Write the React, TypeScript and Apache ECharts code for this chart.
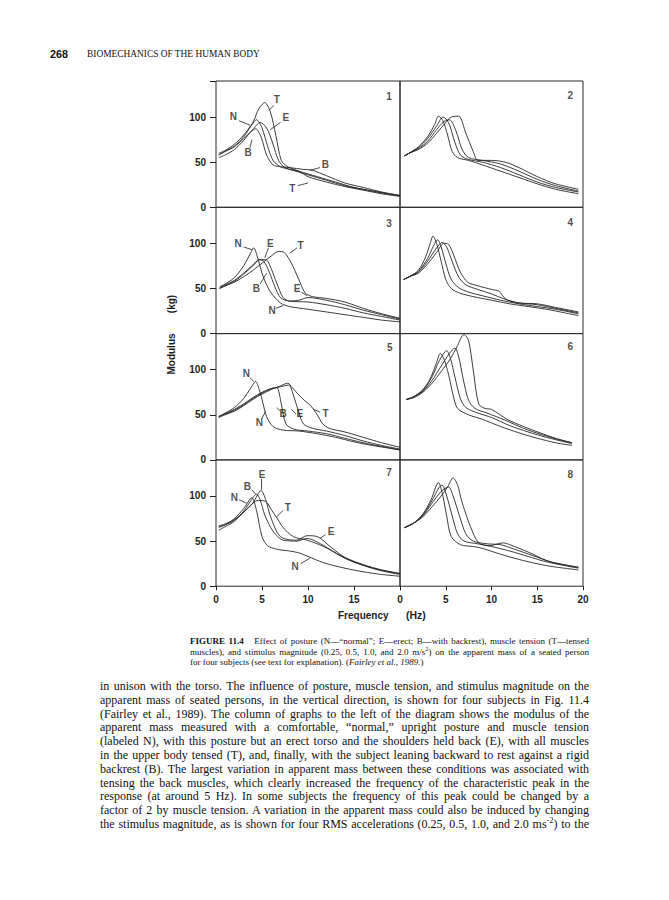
import React, { useEffect, useRef } from 'react';
import * as echarts from 'echarts';

type Pt = [number, number];
type Lab = [number, number, string];
type Lead = [number, number, number, number];

// ---------- tick values ----------
const xTicks = [0, 5, 10, 15, 20];
const yTicks = [0, 50, 100];

// ---------- panel 1 (subject 1, posture) ----------
const p1N: Pt[] = [[0.3,58],[1,62],[2,68],[3,78],[3.8,90],[4.4,97],[5,88],[5.6,68],[6.2,52],[7,45],[8,42],[10,36],[12,30],[14,24],[16,20],[18,16],[20,13]];
const p1E: Pt[] = [[0.3,58],[1,62],[2,67],[3,76],[4,86],[4.8,94],[5.5,88],[6.2,70],[6.8,52],[7.5,44],[9,40],[11,34],[13,28],[15,22],[17,18],[20,13]];
const p1T: Pt[] = [[0.3,60],[1,63],[2,70],[3,80],[4,94],[4.7,110],[5.3,116],[5.9,106],[6.5,80],[7.1,52],[7.8,45],[9,40],[10,34],[12,28],[14,23],[16,19],[18,15],[20,12]];
const p1B: Pt[] = [[0.3,55],[1,58],[2,64],[3,74],[3.8,84],[4.3,87],[4.9,78],[5.5,58],[6.2,47],[7,45],[8,44],[9.5,42],[10.5,41],[12,35],[14,27],[16,22],[18,17],[20,13]];
const p1Labels: Lab[] = [[6.6,119,'T'],[7.6,99,'E'],[1.9,101,'N'],[3.5,61,'B'],[11.9,47,'B'],[8.3,21,'T'],[18.8,123,'1']];
const p1Leaders: Lead[] = [[6.3,113,5.8,108],[7.0,94,5.9,86],[2.5,96,3.7,91],[3.7,66,3.9,75],[11.3,44,10.2,41],[8.9,24,10,27]];

// ---------- panel 2 (subject 1, magnitude) ----------
const p2a: Pt[] = [[0.5,57],[1,60],[2,67],[3,78],[3.8,92],[4.2,101],[4.7,96],[5.2,80],[5.7,62],[6.3,55],[7.5,52],[9,47],[11,40],[13,33],[15,26],[17,20],[19.5,15]];
const p2b: Pt[] = [[0.5,57],[1,60],[2,66],[3,76],[4,90],[4.7,100],[5.3,94],[6,72],[6.6,58],[7.5,53],[9,50],[11,44],[13,36],[15,28],[17,22],[19.5,17]];
const p2c: Pt[] = [[0.5,57],[1,60],[2,65],[3,73],[4,86],[4.8,95],[5.4,97],[6.1,85],[6.8,64],[7.5,55],[9,52],[11,48],[13,40],[15,31],[17,24],[19.5,18]];
const p2d: Pt[] = [[0.5,57],[1,60],[2,64],[3,71],[4,82],[5,94],[5.6,100],[6.4,101],[7.2,82],[8,62],[8.5,52],[10,52],[11.5,50],[13,44],[15,34],[17,26],[19.5,20]];
const p2Labels: Lab[] = [[18.6,124,'2']];

// ---------- panel 3 (subject 2, posture) ----------
const p3N: Pt[] = [[0.4,52],[1,55],[2,62],[3,75],[3.7,88],[4.1,95],[4.5,85],[5,67],[5.5,54],[6,45],[7,34],[8,30],[10,27],[12,24],[14,21],[16,18],[18,15],[20,13]];
const p3E: Pt[] = [[0.4,50],[1,53],[2,58],[3,66],[4,75],[4.8,82],[5.4,82],[6,72],[6.6,56],[7.3,40],[8,36],[9,37],[10,40],[12,37],[14,32],[16,26],[18,21],[20,16]];
const p3B: Pt[] = [[0.4,51],[1,54],[2,59],[3,67],[4,76],[4.7,82],[5.2,80],[5.8,68],[6.4,52],[7,40],[8,36],[10,35],[12,32],[14,28],[16,23],[18,19],[20,15]];
const p3T: Pt[] = [[0.4,50],[1,53],[2,57],[3,63],[4,70],[5,78],[6,86],[6.8,91],[7.4,90],[8.2,78],[9,60],[9.7,45],[10.5,41],[12,39],[14,35],[16,28],[18,22],[20,17]];
const p3Labels: Lab[] = [[2.4,100,'N'],[5.9,100,'E'],[9.2,98,'T'],[4.4,50,'B'],[8.8,50,'E'],[6.1,26,'N'],[18.8,122,'3']];
const p3Leaders: Lead[] = [[3.0,96,3.9,93],[5.7,95,5.3,84],[8.8,95,8.0,89],[4.8,55,5.5,67],[9.3,46,9.9,42],[6.5,28,7.3,31]];

// ---------- panel 4 (subject 2, magnitude) ----------
const p4a: Pt[] = [[0.4,60],[1,63],[2,70],[2.8,85],[3.3,100],[3.6,108],[4,100],[4.5,80],[5,60],[5.6,50],[6.5,45],[8,41],[10,37],[12,33],[14,30],[16,27],[18,23],[19.5,20]];
const p4b: Pt[] = [[0.4,60],[1,63],[2,69],[3,83],[3.7,98],[4.1,104],[4.5,96],[5,78],[5.6,60],[6.4,51],[7.5,46],[9,42],[11,37],[13,33],[15,30],[17,27],[19.5,22]];
const p4c: Pt[] = [[0.4,60],[1,63],[2,68],[3,80],[4,95],[4.6,101],[5.1,96],[5.7,80],[6.4,63],[7.2,54],[8.5,49],[10,44],[11.5,38],[13,34],[15,32],[17,28],[19.5,23]];
const p4d: Pt[] = [[0.4,60],[1,63],[2,67],[3,77],[4,90],[4.8,100],[5.3,99],[5.9,86],[6.6,68],[7.4,57],[8.5,53],[10,49],[10.8,47],[11.6,38],[13,34],[15,33],[17,29],[19.5,24]];
const p4Labels: Lab[] = [[18.6,123,'4']];

// ---------- panel 5 (subject 3, posture) ----------
const p5N: Pt[] = [[0.3,48],[1,52],[2,58],[3,68],[3.8,80],[4.3,87],[4.7,78],[5.1,63],[5.5,48],[6.2,37],[7.3,33],[9,32],[11,29],[13,25],[15,20],[17,16],[20,11]];
const p5B: Pt[] = [[0.3,48],[1,51],[2,56],[3,62],[4,69],[5,75],[6,79],[6.6,80],[7.1,62],[7.6,40],[8.5,34],[10,32],[12,29],[14,24],[16,19],[18,15],[20,11]];
const p5E: Pt[] = [[0.3,48],[1,51],[2,55],[3,61],[4,68],[5,74],[6,79],[7,81],[7.9,83],[8.4,72],[8.9,56],[9.5,40],[10.5,35],[12,32],[14,27],[16,21],[18,16],[20,12]];
const p5T: Pt[] = [[0.3,47],[1,50],[2,54],[3,60],[4,67],[5,73],[6,78],[7,82],[7.8,85],[8.3,80],[9,72],[9.6,66],[10.3,60],[11,50],[11.6,40],[12.3,35],[14,31],[16,25],[18,19],[20,14]];
const p5Labels: Lab[] = [[3.3,96,'N'],[4.7,41,'N'],[7.3,51,'B'],[9.1,51,'E'],[11.9,51,'T'],[18.9,125,'5']];
const p5Leaders: Lead[] = [[3.7,91,4.1,87],[5.0,46,5.4,54],[7.0,54,6.6,58],[8.7,51,8.2,56],[11.3,53,10.6,56]];

// ---------- panel 6 (subject 3, magnitude) ----------
const p6a: Pt[] = [[0.7,67],[1.5,70],[2.5,78],[3.3,90],[4,108],[4.4,118],[4.8,112],[5.3,95],[5.8,72],[6.3,57],[7.5,50],[9,45],[11,37],[13,30],[15,24],[17,19],[18.8,16]];
const p6b: Pt[] = [[0.7,67],[1.5,70],[2.5,77],[3.5,92],[4.3,110],[5.1,121],[5.5,113],[6,92],[6.6,68],[7.2,58],[8.5,52],[10,47],[12,38],[14,31],[16,25],[18.8,18]];
const p6c: Pt[] = [[0.7,67],[1.5,70],[2.5,76],[3.5,88],[4.5,104],[5.4,118],[6,124],[6.4,115],[6.9,90],[7.5,66],[8.2,57],[9.5,52],[11.5,44],[13.5,35],[15.5,28],[17.5,22],[18.8,19]];
const p6d: Pt[] = [[0.7,67],[1.5,69],[2.5,75],[3.5,85],[4.5,98],[5.5,112],[6.2,125],[7,139],[7.5,132],[8,100],[8.6,62],[9.3,57],[10,56],[11.7,45],[13.5,37],[15.3,30],[17,24],[18.8,19]];
const p6Labels: Lab[] = [[18.6,126,'6']];

// ---------- panel 7 (subject 4, posture) ----------
const p7N: Pt[] = [[0.3,65],[1,68],[2,75],[3,86],[3.9,98],[4.4,84],[5,55],[5.6,45],[6.6,41],[8,39],[9,37],[10,33],[11.7,26],[14,20],[16,16],[18,13],[20,11]];
const p7B: Pt[] = [[0.3,62],[1,66],[2,72],[3,83],[3.8,95],[4.4,102],[4.8,96],[5.3,79],[6.2,61],[7.3,51],[8.8,50],[9.9,53],[11,49],[12.5,40],[14,31],[16,23],[18,17],[20,13]];
const p7E: Pt[] = [[0.3,67],[1,69],[2,74],[3,82],[4,92],[4.9,106],[5.4,96],[5.9,78],[7,55],[8.8,51],[9.9,56],[11,55],[12.4,44],[14,32],[16,24],[18,18],[20,14]];
const p7T: Pt[] = [[0.3,66],[1,68],[2,73],[3,82],[4,92],[4.6,95],[5.4,94],[6,85],[6.6,76],[7.3,65],[8.4,55],[9.9,51],[11.7,44],[13.5,34],[15.5,25],[17.5,19],[20,14]];
const p7Labels: Lab[] = [[5.0,124,'E'],[3.4,111,'B'],[2.0,98,'N'],[7.8,87,'T'],[12.5,61,'E'],[8.6,22,'N'],[18.8,126,'7']];
const p7Leaders: Lead[] = [[4.95,119,4.95,107],[3.9,107,4.3,102],[2.5,96,3.3,92],[7.3,84,6.6,77],[11.9,57,11.3,53],[9.2,25,10.2,31]];

// ---------- panel 8 (subject 4, magnitude) ----------
const p8a: Pt[] = [[0.5,65],[1.5,70],[2.5,80],[3.4,96],[4.2,115],[4.6,104],[5.1,78],[5.6,55],[6.6,46],[8,44],[9,42],[10.5,37],[12.5,31],[14.5,26],[16.5,22],[19.5,18]];
const p8b: Pt[] = [[0.5,65],[1.5,70],[2.5,79],[3.5,95],[4.3,110],[4.6,112],[5.1,100],[5.7,78],[6.3,58],[7,50],[8.5,47],[10,44],[12,39],[14,33],[16,27],[19.5,20]];
const p8c: Pt[] = [[0.5,65],[1.5,70],[2.5,78],[3.5,92],[4.5,105],[5.3,110],[5.8,100],[6.5,78],[7.2,58],[8,50],[9.5,47],[11,46],[12.5,41],[14.5,34],[16.5,27],[19.5,21]];
const p8d: Pt[] = [[0.5,65],[1.5,70],[2.5,77],[3.5,88],[4.5,100],[5.2,110],[5.8,120],[6.3,112],[6.7,96],[7.2,80],[7.7,66],[8.6,48],[9.8,45],[11.3,48],[12,46],[14.2,37],[16.4,27],[19.5,21]];
const p8Labels: Lab[] = [[18.6,124,'8']];

const panelCurves: Pt[][][] = [
  [p1N, p1E, p1T, p1B], [p2a, p2b, p2c, p2d],
  [p3N, p3E, p3B, p3T], [p4a, p4b, p4c, p4d],
  [p5N, p5B, p5E, p5T], [p6a, p6b, p6c, p6d],
  [p7N, p7B, p7E, p7T], [p8a, p8b, p8c, p8d],
];
const panelLabels: Lab[][] = [p1Labels, p2Labels, p3Labels, p4Labels, p5Labels, p6Labels, p7Labels, p8Labels];
const panelLeaders: Lead[][] = [p1Leaders, [], p3Leaders, [], p5Leaders, [], p7Leaders, []];

// ---------- layout ----------
const COL_LEFT = [216, 400];
const COL_W = [184, 183];
const ROW_TOP = 81;
const ROW_H = 126.3;
const SANS = '"Liberation Sans", Arial, Helvetica, sans-serif';
const SERIF = '"Liberation Serif", "Times New Roman", serif';
const INK = '#1e1e1e';

function buildOption(): any {
  const grid: any[] = [];
  const xAxis: any[] = [];
  const yAxis: any[] = [];
  const series: any[] = [];
  panelCurves.forEach((curves, i) => {
    const c = i % 2;
    const r = Math.floor(i / 2);
    const bottom = r === 3;
    grid.push({
      left: COL_LEFT[c], width: COL_W[c], top: ROW_TOP + r * ROW_H, height: ROW_H,
      show: true, borderColor: '#2a2a2a', borderWidth: 1, backgroundColor: 'transparent', containLabel: false,
    });
    xAxis.push({
      type: 'value', gridIndex: i, min: xTicks[0], max: xTicks[xTicks.length - 1], interval: 5,
      axisLine: { show: false }, splitLine: { show: false },
      axisTick: { show: bottom, inside: false, length: 4, lineStyle: { color: INK, width: 1 } },
      axisLabel: {
        show: bottom, margin: 8, fontFamily: SANS, fontWeight: 'bold', fontSize: 10, color: INK,
        formatter: (v: number) => (c === 0 && v === 20 ? '' : xTicks.includes(v) ? String(v) : ''),
      },
    });
    yAxis.push({
      type: 'value', gridIndex: i, min: 0, max: 140, interval: 50,
      axisLine: { show: false }, splitLine: { show: false },
      axisTick: { show: c === 0, inside: false, length: 6, lineStyle: { color: INK, width: 1 } },
      axisLabel: {
        show: c === 0, margin: 10, fontFamily: SANS, fontWeight: 'bold', fontSize: 10, color: INK,
        formatter: (v: number) => (yTicks.includes(v) ? String(v) : ''),
      },
    });
    curves.forEach((d) => {
      series.push({
        type: 'line', xAxisIndex: i, yAxisIndex: i, data: d, showSymbol: false, symbol: 'none',
        smooth: 0.3, lineStyle: { color: '#262626', width: 0.9 }, silent: true, z: 2,
      });
    });
    series.push({
      type: 'scatter', xAxisIndex: i, yAxisIndex: i, silent: true, z: 5,
      data: panelLabels[i].map((l) => [l[0], l[1], l[2]]),
      symbolSize: 1, itemStyle: { color: 'rgba(0,0,0,0)' },
      label: {
        show: true, position: 'inside', fontFamily: SANS, fontWeight: 'bold', fontSize: 10, color: INK,
        formatter: (p: any) => p.data[2],
      },
      markLine: {
        silent: true, symbol: ['none', 'none'], label: { show: false },
        lineStyle: { color: INK, width: 0.8, type: 'solid' },
        data: panelLeaders[i].map((l) => [{ coord: [l[0], l[1]] }, { coord: [l[2], l[3]] }]),
      },
    });
  });
  return {
    animation: false,
    backgroundColor: '#fff',
    grid, xAxis, yAxis, series,
    graphic: [
      { type: 'text', x: 338, y: 615, style: { text: 'Frequency', fontFamily: SANS, fontWeight: 'bold', fontSize: 10, fill: INK, verticalAlign: 'middle', textVerticalAlign: 'middle' } },
      { type: 'text', x: 406, y: 615, style: { text: '(Hz)', fontFamily: SANS, fontWeight: 'bold', fontSize: 10.5, fill: INK, verticalAlign: 'middle', textVerticalAlign: 'middle' } },
      { type: 'text', x: 171, y: 354, rotation: Math.PI / 2, style: { text: 'Modulus', fontFamily: SANS, fontWeight: 'bold', fontSize: 10, fill: INK, align: 'center', textAlign: 'center', verticalAlign: 'middle', textVerticalAlign: 'middle' } },
      { type: 'text', x: 171, y: 304, rotation: Math.PI / 2, style: { text: '(kg)', fontFamily: SANS, fontWeight: 'bold', fontSize: 10, fill: INK, align: 'center', textAlign: 'center', verticalAlign: 'middle', textVerticalAlign: 'middle' } },
    ],
  };
}

const captionLines: React.ReactNode[] = [
  <><b>FIGURE 11.4</b>{'\u00a0\u00a0\u00a0'}Effect of posture (N—“normal”; E—erect; B—with backrest), muscle tension (T—tensed</>,
  <>muscles), and stimulus magnitude (0.25, 0.5, 1.0, and 2.0 m/s<sup style={{ fontSize: '0.7em', lineHeight: 0 }}>2</sup>) on the apparent mass of a seated person</>,
  <>for four subjects (see text for explanation). (<i>Fairley et al., 1989.</i>)</>,
];

const bodyLines: React.ReactNode[] = [
  <>in unison with the torso. The influence of posture, muscle tension, and stimulus magnitude on the</>,
  <>apparent mass of seated persons, in the vertical direction, is shown for four subjects in Fig. 11.4</>,
  <>(Fairley et al., 1989). The column of graphs to the left of the diagram shows the modulus of the</>,
  <>apparent mass measured with a comfortable, “normal,” upright posture and muscle tension</>,
  <>(labeled N), with this posture but an erect torso and the shoulders held back (E), with all muscles</>,
  <>in the upper body tensed (T), and, finally, with the subject leaning backward to rest against a rigid</>,
  <>backrest (B). The largest variation in apparent mass between these conditions was associated with</>,
  <>tensing the back muscles, which clearly increased the frequency of the characteristic peak in the</>,
  <>response (at around 5 Hz). In some subjects the frequency of this peak could be changed by a</>,
  <>factor of 2 by muscle tension. A variation in the apparent mass could also be induced by changing</>,
  <>the stimulus magnitude, as is shown for four RMS accelerations (0.25, 0.5, 1.0, and 2.0 ms<sup style={{ fontSize: '0.7em', lineHeight: 0 }}>-2</sup>) to the</>,
];

export default function App() {
  const ref = useRef<HTMLDivElement>(null);
  useEffect(() => {
    if (!ref.current) return;
    const chart = echarts.init(ref.current, null, { renderer: 'svg' });
    chart.setOption(buildOption());
    return () => chart.dispose();
  }, []);
  const justified: React.CSSProperties = { textAlign: 'justify', textAlignLast: 'justify', whiteSpace: 'nowrap' };
  return (
    <div style={{ position: 'absolute', left: 0, top: 0, width: 669, height: 900, background: '#fff', overflow: 'hidden', color: '#111' }}>
      <div ref={ref} style={{ position: 'absolute', left: 0, top: 0, width: 669, height: 640 }} />
      <div style={{ position: 'absolute', left: 50, top: 48, fontFamily: SANS, fontWeight: 'bold', fontSize: 10.8, lineHeight: '12px' }}>268</div>
      <div style={{ position: 'absolute', left: 87, top: 48.5, fontFamily: SERIF, fontSize: 9.4, lineHeight: '11px' }}>BIOMECHANICS OF THE HUMAN BODY</div>
      <div style={{ position: 'absolute', left: 190, top: 636, width: 399, fontFamily: SERIF, fontSize: 9, lineHeight: '10.5px' }}>
        {captionLines.map((l, k) => (
          <div key={k} style={k < 2 ? justified : { whiteSpace: 'nowrap' }}>{l}</div>
        ))}
      </div>
      <div style={{ position: 'absolute', left: 100, top: 680, width: 489, fontFamily: SERIF, fontSize: 12, lineHeight: '13.8px' }}>
        {bodyLines.map((l, k) => (
          <div key={k} style={justified}>{l}</div>
        ))}
      </div>
    </div>
  );
}
